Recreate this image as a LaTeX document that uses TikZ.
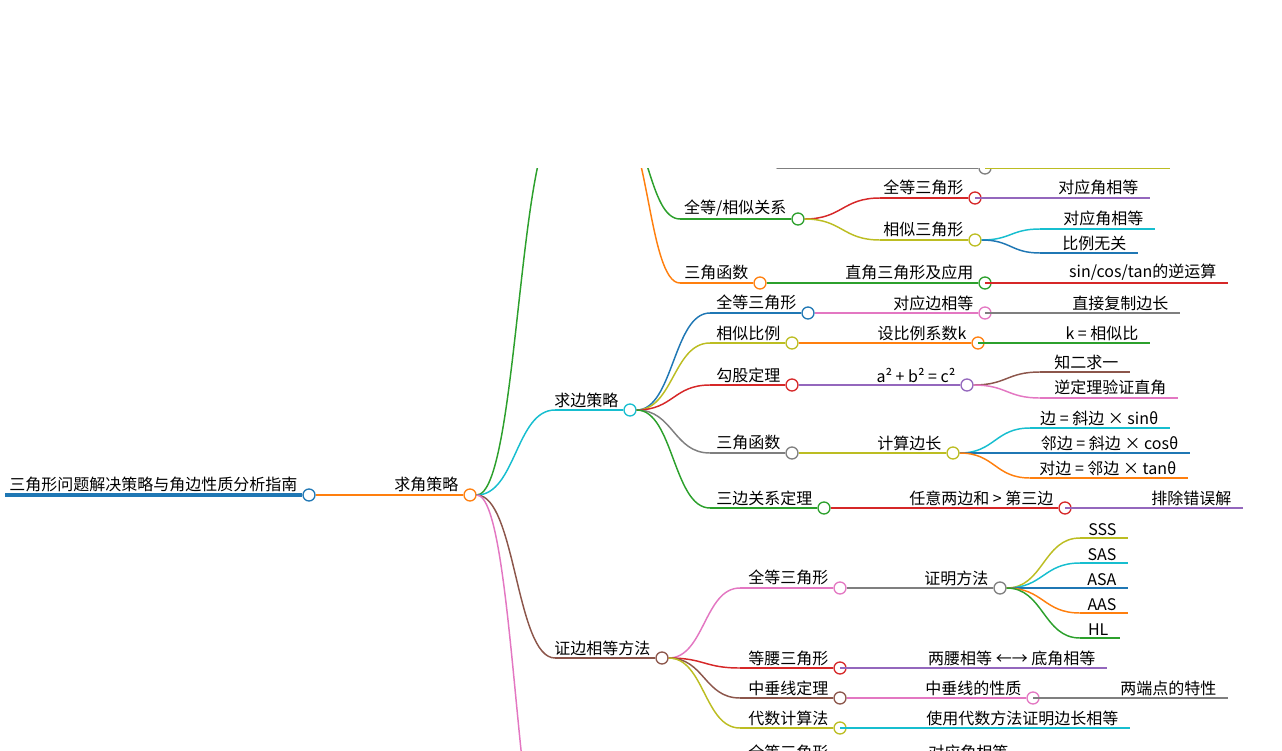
\documentclass[tikz,border=0pt]{standalone}
\usepackage{fontspec}
\usetikzlibrary{calc}
\setmainfont{Noto Sans CJK SC}
\definecolor{cb}{HTML}{1F77B4}\definecolor{co}{HTML}{FF7F0E}\definecolor{cg}{HTML}{2CA02C}
\definecolor{cr}{HTML}{D62728}\definecolor{cp}{HTML}{9467BD}\definecolor{cn}{HTML}{8C564B}
\definecolor{ck}{HTML}{E377C2}\definecolor{cy}{HTML}{7F7F7F}\definecolor{cl}{HTML}{BCBD22}
\definecolor{cc}{HTML}{17BECF}
\tikzset{
 dot/.style={circle,draw=#1,fill=white,line width=1pt,minimum size=9pt,inner sep=0pt},
 lbl/.style={anchor=south east,inner sep=1pt,font=\fontsize{12}{14}\selectfont,text=black},
 br/.style={line width=1.1pt,#1}
}
\newcommand{\mmcurve}[4]{% parent, xl, y, color
 \draw[br=#4] let \p1=(#1.east) in (\p1) .. controls ({(\x1+#2*0.75pt)/2},\y1) and ({(\x1+#2*0.75pt)/2},{-#3*0.75pt}) .. (#2,#3);
}
\newcommand{\mmnode}[7]{%
 \node[dot=#6] (#2) at (#4,#5) {};
 \mmcurve{#1}{#3}{#5}{#6}
 \draw[br=#6] (#3,#5) -- (#2.west);
 \node[lbl] (#2t) at (#4-10,#5-1) {#7};
}
\newcommand{\mmchain}[7]{%
 \node[dot=#6] (#2) at (#4,#5) {};
 \draw[br=#6] (#1.east) -- (#2.west);
 \node[lbl] (#2t) at (#4-10,#5-1) {#7};
}
\newcommand{\mmleaf}[7]{%
 \coordinate (#2) at (#4,#5);
 \mmcurve{#1}{#3}{#5}{#6}
 \draw[br=#6] (#3,#5) -- (#2);
 \node[lbl] (#2t) at (#4-10,#5-1) {#7};
}
\begin{document}
\begin{tikzpicture}[x=0.75pt,y=-0.75pt]
\useasboundingbox (0,0) rectangle (1282,750);
\begin{scope}
\clip (0,168) rectangle (1282,750);
\node[dot=cb] (root) at (309,495) {};
\draw[line width=2.4pt,cb] (5,495) -- (root.west);
\node[lbl] (roott) at (299,494) {三角形问题解决策略与角边性质分析指南};
\mmchain{root}{A}{309}{470}{495}{co}{求角策略}
% hidden upper branch
\mmnode{A}{X}{560}{610}{120}{cg}{}
\mmnode{X}{Z}{690}{760}{100}{cy}{}
\mmnode{Z}{Z2}{777}{985}{168}{cy}{}
\mmleaf{Z2}{Z3}{985}{1170}{168}{cl}{}
\mmnode{X}{B1}{680}{798}{219}{cg}{全等/相似关系}
\mmnode{B1}{B11}{880}{975}{198}{cr}{全等三角形}
\mmleaf{B11}{B111}{975}{1150}{198}{cp}{对应角相等}
\mmnode{B1}{B12}{880}{975}{240}{cl}{相似三角形}
\mmleaf{B12}{B121}{1040}{1155}{229}{cc}{对应角相等}
\mmleaf{B12}{B122}{1040}{1138}{253}{cb}{比例无关}
\mmnode{X}{B2}{680}{760}{283}{co}{三角函数}
\mmchain{B2}{B21}{760}{985}{283}{cg}{直角三角形及应用}
\mmleaf{B21}{B211}{985}{1228}{283}{cr}{sin/cos/tan的逆运算}
% 求边策略
\mmnode{A}{C}{555}{630}{410}{cc}{求边策略}
\mmnode{C}{C1}{710}{808}{313}{cb}{全等三角形}
\mmchain{C1}{C11}{808}{985}{313}{ck}{对应边相等}
\mmleaf{C11}{C111}{985}{1180}{313}{cy}{直接复制边长}
\mmnode{C}{C2}{710}{792}{343}{cl}{相似比例}
\mmchain{C2}{C21}{792}{978}{343}{co}{设比例系数k}
\mmleaf{C21}{C211}{978}{1150}{343}{cg}{k = 相似比}
\mmnode{C}{C3}{710}{792}{385}{cr}{勾股定理}
\mmchain{C3}{C31}{792}{967}{385}{cp}{a² + b² = c²}
\mmleaf{C31}{C311}{1040}{1130}{372}{cn}{知二求一}
\mmleaf{C31}{C312}{1040}{1178}{398}{ck}{逆定理验证直角}
\mmnode{C}{C4}{710}{792}{453}{cy}{三角函数}
\mmchain{C4}{C41}{792}{953}{453}{cl}{计算边长}
\mmleaf{C41}{C411}{1030}{1170}{428}{cc}{边 = 斜边 × sinθ}
\mmleaf{C41}{C412}{1030}{1190}{453}{cb}{邻边 = 斜边 × cosθ}
\mmleaf{C41}{C413}{1030}{1188}{478}{co}{对边 = 邻边 × tanθ}
\mmnode{C}{C5}{710}{824}{508}{cg}{三边关系定理}
\mmchain{C5}{C51}{824}{1065}{508}{cr}{任意两边和 > 第三边}
\mmleaf{C51}{C511}{1065}{1243}{508}{cp}{排除错误解}
% 证边相等方法
\mmnode{A}{D}{555}{662}{658}{cn}{证边相等方法}
\mmnode{D}{D1}{740}{840}{588}{ck}{全等三角形}
\mmchain{D1}{D11}{840}{1000}{588}{cy}{证明方法}
\mmleaf{D11}{D111}{1080}{1128}{538}{cl}{SSS}
\mmleaf{D11}{D112}{1080}{1128}{563}{cc}{SAS}
\mmleaf{D11}{D113}{1080}{1128}{588}{cb}{ASA}
\mmleaf{D11}{D114}{1080}{1128}{613}{co}{AAS}
\mmleaf{D11}{D115}{1080}{1120}{638}{cg}{HL}
\mmnode{D}{D2}{740}{840}{668}{cr}{等腰三角形}
\mmleaf{D2}{D21}{840}{1107}{668}{cp}{两腰相等 ←→ 底角相等}
\mmnode{D}{D3}{740}{840}{698}{cn}{中垂线定理}
\mmchain{D3}{D31}{840}{1033}{698}{ck}{中垂线的性质}
\mmleaf{D31}{D311}{1033}{1228}{698}{cy}{两端点的特性}
\mmnode{D}{D4}{740}{840}{728}{cl}{代数计算法}
\mmleaf{D4}{D41}{840}{1130}{728}{cc}{使用代数方法证明边长相等}
% hidden lower branch
\mmnode{A}{E}{555}{640}{900}{ck}{}
\mmnode{E}{E1}{740}{840}{762}{cg}{全等三角形}
\mmleaf{E1}{E11}{840}{1020}{762}{cr}{对应角相等}
\end{scope}
\end{tikzpicture}
\end{document}
